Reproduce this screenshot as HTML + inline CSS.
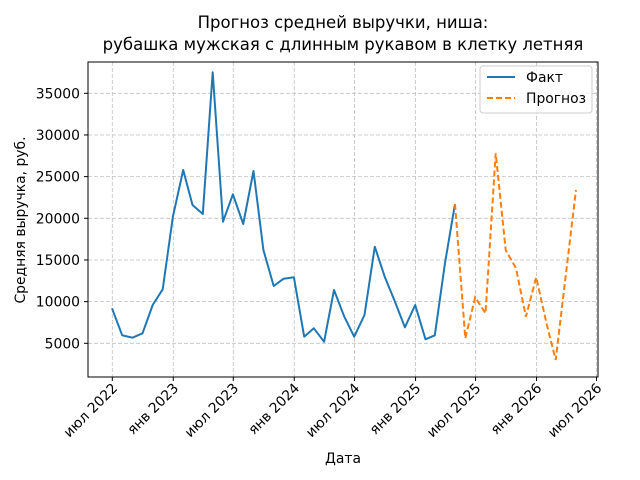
<!DOCTYPE html>
<html><head><meta charset="utf-8"><style>body{margin:0;background:#fff}svg{display:block;font-family:"DejaVu Sans","Liberation Sans",sans-serif}</style></head>
<body>
<svg id="chart" width="640" height="480" xmlns="http://www.w3.org/2000/svg">
<rect width="640" height="480" fill="#fff"/>
<text x="343" y="28" text-anchor="middle" font-size="16.5">Прогноз средней выручки, ниша:</text>
<text x="343" y="50" text-anchor="middle" font-size="16.5">рубашка мужская с длинным рукавом в клетку летняя</text>
<g id="grid"></g><g id="axes"></g><g id="series"></g>
<text x="343" y="463" text-anchor="middle" font-size="13.9">Дата</text>
<text transform="translate(25,220) rotate(-90)" text-anchor="middle" font-size="13.9">Средняя выручка, руб.</text>
<g>
<rect x="480" y="66" width="112" height="47" rx="3" fill="#fff" fill-opacity="0.8" stroke="#ccc"/>
<line x1="487" y1="77" x2="515" y2="77" stroke="#1f77b4" stroke-width="2"/>
<text x="526" y="82" font-size="13.9">Факт</text>
<line x1="487" y1="98" x2="515" y2="98" stroke="#ff7f0e" stroke-width="2" stroke-dasharray="6,3"/>
<text x="526" y="103" font-size="13.9">Прогноз</text>
</g>
</svg>
<script>
const actualValues=[9200,5960,5670,6200,9600,11480,20190,25800,21600,20520,37520,19590,22880,19320,25680,16200,11880,12750,12920,5790,6800,5190,11400,8190,5790,8400,16590,12990,9990,6920,9600,5480,5960,14640,21720];
const forecastValues=[21720,5600,10520,8600,27800,16200,14000,8190,12920,7400,3000,13400,23400];
const yTicks=[5000,10000,15000,20000,25000,30000,35000];
const xTickLabels=["июл 2022","янв 2023","июл 2023","янв 2024","июл 2024","янв 2025","июл 2025","янв 2026","июл 2026"];
const startYear=2022,startMonth=6;
const L=88,R=598,T=62,B=377;
const t0=Date.UTC(2022,6,1),t1=Date.UTC(2026,6,1);
const x0=112.3,x1=596.5;
function xs(ms){return x0+(ms-t0)/(t1-t0)*(x1-x0);}
function ys(v){return 343.3-(v-5000)/120;}
function monthDate(i){return Date.UTC(startYear,startMonth+i,0);}
const ns="http://www.w3.org/2000/svg";
function mk(tag,attrs,parent){const e=document.createElementNS(ns,tag);for(const k in attrs)e.setAttribute(k,attrs[k]);parent.appendChild(e);return e;}
const grid=document.getElementById('grid'),axes=document.getElementById('axes'),series=document.getElementById('series');
yTicks.forEach(v=>{const y=ys(v);
const g=mk('line',{x1:L,x2:R,y1:y,y2:y,stroke:'#c0c0c0','stroke-dasharray':'4,2','stroke-width':0.8},grid);

mk('line',{x1:L-4,x2:L,y1:y,y2:y,stroke:'#000'},axes);
const t=mk('text',{x:L-8,y:y+5,'text-anchor':'end','font-size':13.9},axes);t.textContent=v;
});
xTickLabels.forEach((lab,i)=>{const x=xs(Date.UTC(2022,6+6*i,1));
const g=mk('line',{x1:x,x2:x,y1:T,y2:B,stroke:'#c0c0c0','stroke-dasharray':'4,2','stroke-width':0.8},grid);

mk('line',{x1:x,x2:x,y1:B,y2:B+4,stroke:'#000'},axes);
const t=mk('text',{transform:`translate(${x+6},${B+12}) rotate(-45)`,'text-anchor':'end','font-size':13.9},axes);t.textContent=lab;
});
const frame=mk('rect',{x:L,y:T,width:R-L,height:B-T,fill:'none',stroke:'#000','stroke-width':1},axes);

const pa=actualValues.map((v,i)=>xs(monthDate(i)).toFixed(1)+','+ys(v).toFixed(1)).join(' ');
const la=mk('polyline',{points:pa,fill:'none',stroke:'#1f77b4','stroke-width':2,'stroke-linejoin':'round'},series);

const off=actualValues.length-1;
const pf=forecastValues.map((v,i)=>xs(monthDate(off+i)).toFixed(1)+','+ys(v).toFixed(1)).join(' ');
const lf=mk('polyline',{points:pf,fill:'none',stroke:'#ff7f0e','stroke-width':2,'stroke-dasharray':'6,3'},series);

</script>
</body></html>
